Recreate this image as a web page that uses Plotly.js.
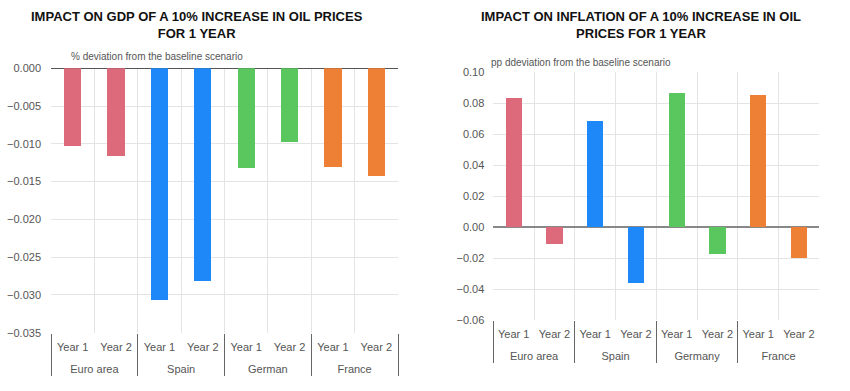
<!DOCTYPE html>
<html>
<head>
<meta charset="utf-8">
<script src="https://cdn.plot.ly/plotly-3.0.1.min.js"></script>
<style>html,body{margin:0;padding:0;background:#fff}#chart{width:850px;height:391px}</style>
</head>
<body>
<div id="chart"></div>
<script>
// ---- data ----
const years = ["Year 1", "Year 2"];
const groupsGDP = ["Euro area", "Spain", "German", "France"];
const groupsInfl = ["Euro area", "Spain", "Germany", "France"];
const gdpEuro = [-0.0103, -0.0116];
const gdpSpain = [-0.0307, -0.0282];
const gdpGermany = [-0.0132, -0.0097];
const gdpFrance = [-0.0131, -0.0142];
const inflEuro = [0.0836, -0.0112];
const inflSpain = [0.0683, -0.0359];
const inflGermany = [0.0868, -0.0174];
const inflFrance = [0.0853, -0.0202];
const colors = ["#DD6A7B", "#1F88F8", "#5AC75E", "#EE8035"];
const gdpTicks = [0, -0.005, -0.010, -0.015, -0.020, -0.025, -0.030, -0.035];
const inflTicks = [0.10, 0.08, 0.06, 0.04, 0.02, 0.00, -0.02, -0.04, -0.06];

const gdpSeries = [gdpEuro, gdpSpain, gdpGermany, gdpFrance];
const inflSeries = [inflEuro, inflSpain, inflGermany, inflFrance];

const tickFont = {family: "Liberation Sans, Arial, sans-serif", size: 11, color: "#555"};
const traces = [];
// group labels get a leading blank line to push them lower under the year labels
gdpSeries.forEach((vals, i) => {
  const g = "<br>" + groupsGDP[i];
  traces.push({
    type: "bar", xaxis: "x", yaxis: "y",
    x: [[g, g], years],
    y: vals, marker: {color: colors[i]}, width: 0.4, showlegend: false, hoverinfo: "none"
  });
});
inflSeries.forEach((vals, i) => {
  const g = "<br>" + groupsInfl[i];
  traces.push({
    type: "bar", xaxis: "x2", yaxis: "y2",
    x: [[g, g], years],
    y: vals, marker: {color: colors[i]}, width: 0.4, showlegend: false, hoverinfo: "none"
  });
});

const H = 391, W = 850;
const xaxisCommon = {
  type: "multicategory", tickson: "boundaries", showgrid: true, gridcolor: "#e4e4e4",
  showdividers: true, dividercolor: "#666", dividerwidth: 1, ticks: "", tickfont: tickFont,
  showline: false, zeroline: false, automargin: false, fixedrange: true, ticklabelstandoff: 6
};
const yaxisCommon = {
  showgrid: true, gridcolor: "#e4e4e4", zeroline: true, zerolinewidth: 1.3,
  tickfont: tickFont, ticks: "", automargin: false, fixedrange: true, showline: false
};

const layout = {
  width: W, height: H,
  margin: {l: 0, r: 0, t: 0, b: 0},
  paper_bgcolor: "#fff", plot_bgcolor: "#fff",
  bargap: 0, barmode: "group",
  xaxis: Object.assign({}, xaxisCommon, {domain: [51/W, 398/W], anchor: "y"}),
  yaxis: Object.assign({}, yaxisCommon, {domain: [1 - 332.7/H, 1 - 68.3/H], range: [-0.035, 0],
    tickvals: gdpTicks, tickformat: ".3f", zerolinecolor: "#555", anchor: "x", ticklabelstandoff: 9}),
  xaxis2: Object.assign({}, xaxisCommon, {domain: [493.3/W, 819.3/W], anchor: "y2"}),
  yaxis2: Object.assign({}, yaxisCommon, {domain: [1 - 320/H, 1 - 72.3/H], range: [-0.06, 0.10],
    tickvals: inflTicks, tickformat: ".2f", zerolinecolor: "#888", anchor: "x2", ticklabelstandoff: 8}),
  annotations: [
    {text: "<b>IMPACT ON GDP OF A 10% INCREASE IN OIL PRICES<br>FOR 1 YEAR</b>", xref: "paper", yref: "paper",
     x: 197/W, y: 1 - 7/H, xanchor: "center", yanchor: "top", showarrow: false, align: "center",
     font: {family: "Liberation Sans, Arial, sans-serif", size: 13, color: "#111"}},
    {text: "<b>IMPACT ON INFLATION OF A 10% INCREASE IN OIL<br>PRICES FOR 1 YEAR</b>", xref: "paper", yref: "paper",
     x: 641/W, y: 1 - 7/H, xanchor: "center", yanchor: "top", showarrow: false, align: "center",
     font: {family: "Liberation Sans, Arial, sans-serif", size: 13, color: "#111"}},
    {text: "% deviation from the baseline scenario", xref: "paper", yref: "paper",
     x: 69/W, y: 1 - 57/H, xanchor: "left", yanchor: "middle", showarrow: false,
     font: {family: "Liberation Sans, Arial, sans-serif", size: 10, color: "#555"}},
    {text: "pp ddeviation from the baseline scenario", xref: "paper", yref: "paper",
     x: 489/W, y: 1 - 62/H, xanchor: "left", yanchor: "middle", showarrow: false,
     font: {family: "Liberation Sans, Arial, sans-serif", size: 10, color: "#555"}}
  ]
};

Plotly.newPlot("chart", traces, layout, {staticPlot: true, displayModeBar: false});
</script>
</body>
</html>
